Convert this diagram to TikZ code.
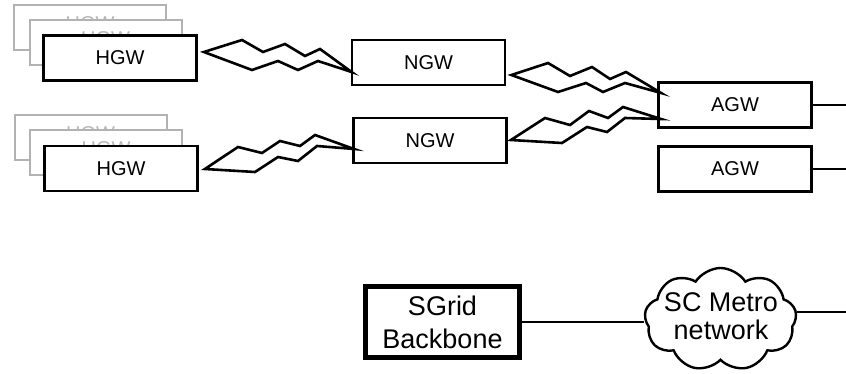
\documentclass[tikz,border=0pt]{standalone}
\usepackage{fontspec}
\setmainfont{Liberation Sans}
\usetikzlibrary{shapes.symbols,calc}
\begin{document}
\begin{tikzpicture}[x=1pt,y=-1pt,
 gw/.style={draw, line width=2.8pt, fill=white, minimum width=153pt, minimum height=45pt, inner sep=0pt, font=\fontsize{20}{24}\selectfont},
 ghost/.style={draw=black!30, line width=2pt, fill=white, text=black!28, minimum width=152pt, minimum height=45pt, inner sep=0pt, text depth=8pt, font=\fontsize{20}{24}\selectfont},
 bolt/.style={line width=2.6pt, line join=miter},
 wire/.style={line width=2.4pt}]
\useasboundingbox (0,0) rectangle (846,374);
% top HGW stack
\node[ghost] (ga1) at (90,27.5) {HGW};
\node[ghost] (ga2) at (105.5,42.5) {HGW};
\node[gw] (hgw1) at (120,58) {HGW};
% bottom HGW stack
\node[ghost] (gb1) at (90.5,138) {HGW};
\node[ghost] (gb2) at (106,153) {HGW};
\node[gw] (hgw2) at (121,168.5) {HGW};
% NGW, AGW
\node[gw] (ngw1) at (428.5,62.5) {NGW};
\node[gw] (ngw2) at (430,140.5) {NGW};
\node[gw] (agw1) at (735,105) {AGW};
\node[gw] (agw2) at (735,169) {AGW};
% bolts
\draw[bolt] ($(hgw1.east)+(6,-6)$) -- (242,40) -- (263,52) -- (285,44) -- (305,56) -- (320,49) -- ($(ngw1.west)+(1,9.5)$) -- (318,61) -- (298,70) -- (278,61) -- (252,70) -- cycle;
\draw[bolt] ($(ngw1.east)+(5,12.5)$) -- (548,63) -- (570,76) -- (592,67) -- (610,79) -- (626,72) -- ($(agw1.west)+(4,-12)$) -- (625,83) -- (603,92) -- (586,83) -- (558,92) -- cycle;
\draw[bolt] ($(hgw2.east)+(6,0.5)$) -- (238,147) -- (262,153) -- (280,141) -- (300,146) -- (315,135) -- ($(ngw2.west)+(2,8.5)$) -- (317,146) -- (298,161) -- (278,157) -- (255,172) -- cycle;
\draw[bolt] ($(ngw2.east)+(3,-0.5)$) -- (545,118) -- (570,125) -- (589,111) -- (608,118) -- (623,107) -- ($(agw1.west)+(4,14)$) -- (625,118) -- (607,132) -- (587,127) -- (562,143) -- cycle;
% right wires
\coordinate (e1) at (846,105);
\coordinate (e2) at (846,169);
\draw[wire] (agw1.east) -- (e1);
\draw[wire] (agw2.east) -- (e2);
% backbone and cloud
\node[draw, line width=5pt, minimum width=154pt, minimum height=71pt, inner sep=0pt, align=center, font=\fontsize{27}{33}\selectfont] (sg) at (442.5,322) {SGrid\\Backbone};
\node[cloud, draw, line width=2.4pt, cloud puffs=9, cloud puff arc=115, aspect=1.5, minimum width=152pt, minimum height=103pt, inner sep=0pt] (cl) at (720.5,319.5) {};
\node[inner sep=0pt, align=center, font=\fontsize{27}{28}\selectfont] (cltext) at (721,316.5) {SC Metro\\network};
\coordinate (e3) at (846,312);
\draw[wire] (sg.east) -- (sg.east -| cl.west);
\draw[wire] (cl.east |- e3) -- (e3);
\end{tikzpicture}
\end{document}
